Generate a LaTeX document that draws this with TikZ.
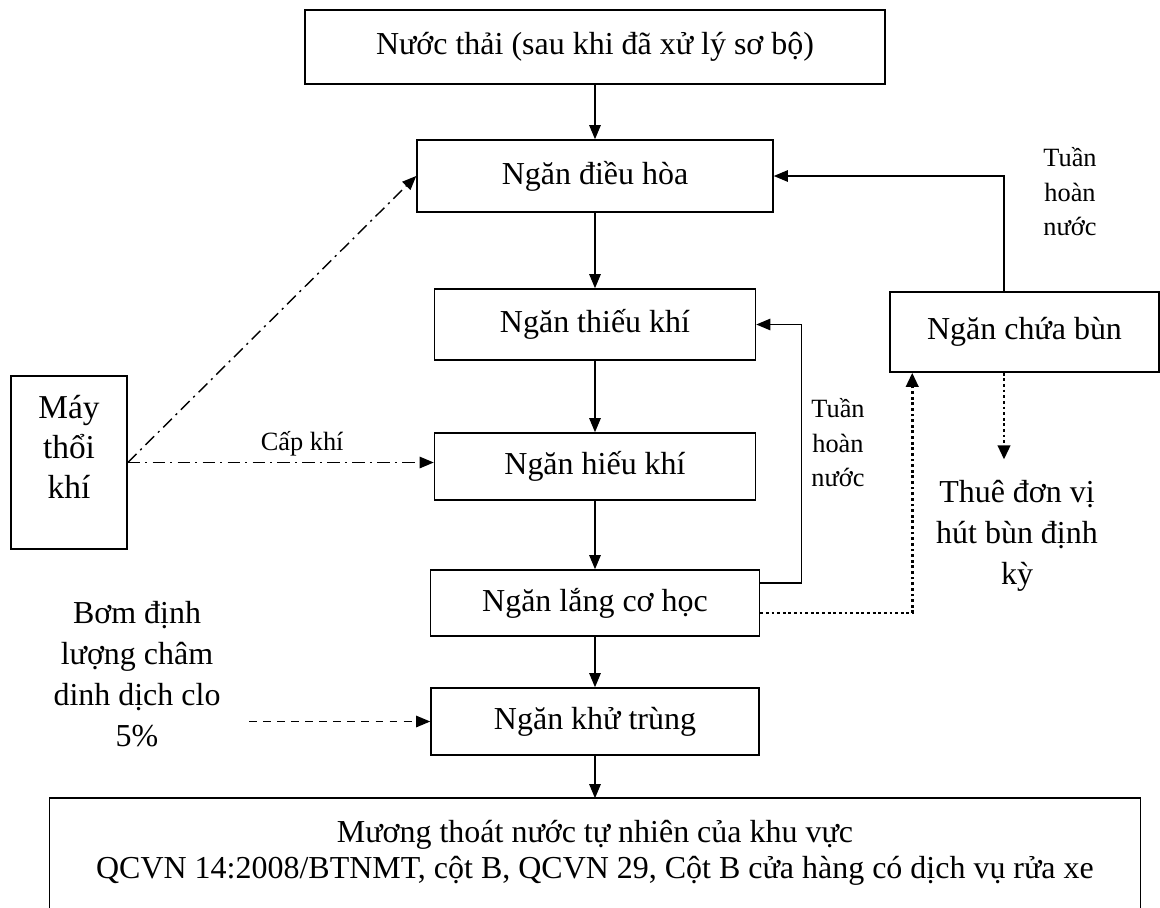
\documentclass[tikz,border=0pt]{standalone}
\usepackage{fontspec}
\setmainfont{Liberation Serif}
\usetikzlibrary{arrows.meta}

\begin{document}
\begin{tikzpicture}[x=0.02cm,y=-0.02cm,
    stage/.style={draw,line width=0.9pt,inner sep=0pt,font=\fontsize{18.2}{20.5}\selectfont,align=center},
    note/.style={align=center,font=\fontsize{18.2}{23.2}\selectfont},
    smallnote/.style={align=center,font=\fontsize{15}{19.6}\selectfont},
    flow/.style={-{Triangle[length=8pt,width=6.5pt]},line width=0.8pt},
    air/.style={flow,dash pattern=on 7pt off 3pt on 1.2pt off 3pt},
    chem/.style={flow,dash pattern=on 4.5pt off 3.5pt},
    sludgeline/.style={-{Triangle[length=8pt,width=7pt]},line width=1.6pt,dash pattern=on 1.6pt off 1.6pt}]
    \useasboundingbox (0,0) rectangle (1160,907);
    % Main treatment line
    \node[stage,minimum width=11.6cm,minimum height=1.48cm] (src) at (595,47) {Nước thải (sau khi đã xử lý sơ bộ)};
    \node[stage,minimum width=7.12cm,minimum height=1.44cm] (eq) at (595,176) {Ngăn điều hòa};
    \node[stage,minimum width=6.42cm,minimum height=1.42cm] (anox) at (595,324.5) {Ngăn thiếu khí};
    \node[stage,minimum width=6.42cm,minimum height=1.34cm] (aero) at (595,466.5) {Ngăn hiếu khí};
    \node[stage,minimum width=6.58cm,minimum height=1.32cm] (settle) at (595,603) {Ngăn lắng cơ học};
    \node[stage,minimum width=6.56cm,minimum height=1.34cm] (disinf) at (595,721.5) {Ngăn khử trùng};
    \node[stage,draw=none,minimum width=21.8cm,minimum height=2.16cm] (outlet) at (595,853)
      {Mương thoát nước tự nhiên của khu vực\\QCVN 14:2008/BTNMT, cột B, QCVN 29, Cột B cửa hàng có dịch vụ rửa xe};
    \draw[line width=0.9pt] (outlet.south west) -- (outlet.north west) -- (outlet.north east) -- (outlet.south east);
    % Side units
    \node[stage,minimum width=2.32cm,minimum height=3.46cm,
      label={[name=blowertxt,align=center,font=\fontsize{19}{22.8}\selectfont,yshift=0.31cm]center:Máy\\thổi\\khí}] (blower) at (69,462.5) {};
    \node[stage,minimum width=5.38cm,minimum height=1.6cm] (sludge) at (1024.5,332) {Ngăn chứa bùn};
    \node[note] (hire) at (1017,536) {Thuê đơn vị\\hút bùn định\\kỳ};
    \node[note] (pump) at (137,674) {Bơm định\\lượng châm\\dinh dịch clo\\5\%};
    \node[smallnote] (recycleA) at (1070,192) {Tuần\\hoàn\\nước};
    \node[smallnote] (recycleB) at (838,443) {Tuần\\hoàn\\nước};
    \coordinate (dose) at (249,721.5);
    % Water flow
    \draw[flow] (src) -- (eq);
    \draw[flow] (eq) -- (anox);
    \draw[flow] (anox) -- (aero);
    \draw[flow] (aero) -- (settle);
    \draw[flow] (settle) -- (disinf);
    \draw[flow] (disinf) -- (outlet);
    % Recirculation
    \draw[flow] ([xshift=-0.41cm]sludge.north) |- (eq.east);
    \draw[flow] ([yshift=0.4cm]settle.east) -- ++(41,0) |- (anox.east);
    % Sludge
    \draw[sludgeline] ([yshift=-0.2cm]settle.east) -| ([xshift=0.46cm]sludge.south west);
    \draw[sludgeline] ([xshift=-0.41cm]sludge.south) -- ([xshift=-0.41cm,yshift=0.3cm]sludge.south |- hire.north);
    % Air and chemicals
    \draw[air] (blower.east) -- (blower.east -| aero.west) node[pos=0.57,above,smallnote] (feedlbl) {Cấp khí};
    \draw[air] (blower.east) -- (eq.west);
    \draw[chem] (dose) -- (disinf.west);
\end{tikzpicture}
\end{document}
